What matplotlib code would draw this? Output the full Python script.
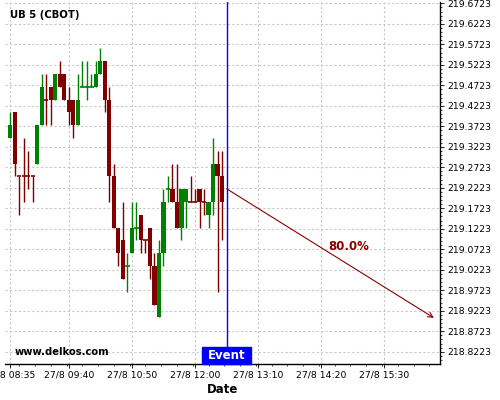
import numpy as np
import pandas as pd
import matplotlib
matplotlib.use("Agg")
import matplotlib.pyplot as plt
from matplotlib.ticker import FuncFormatter, FixedLocator, MultipleLocator
from matplotlib.patches import Rectangle
import matplotlib.transforms as mtransforms

# 5分足 (27/8 08:35 - 12:30), 価格は 1/32 刻み
times = pd.date_range("2025-08-27 08:35", periods=48, freq="5min")
opens = [219.34375, 219.40625, 219.25, 219.25, 219.25, 219.25, 219.28125, 219.375,
         219.4375, 219.46875, 219.4375, 219.5, 219.5, 219.4375, 219.4375, 219.375,
         219.46875, 219.46875, 219.46875, 219.46875, 219.5, 219.53125, 219.4375, 219.25,
         219.125, 219.09375, 219.03125, 219.0625, 219.125, 219.15625, 219.09375, 219.125,
         219.03125, 218.90625, 219.0625, 219.21875, 219.21875, 219.1875, 219.125, 219.1875,
         219.1875, 219.1875, 219.21875, 219.1875, 219.15625, 219.1875, 219.28125, 219.25]
highs = [219.40625, 219.40625, 219.25, 219.34375, 219.3125, 219.25, 219.375, 219.5,
         219.5, 219.46875, 219.5, 219.53125, 219.5, 219.46875, 219.4375, 219.5,
         219.53125, 219.53125, 219.5, 219.53125, 219.5625, 219.53125, 219.46875, 219.28125,
         219.125, 219.1875, 219.0625, 219.1875, 219.1875, 219.15625, 219.09375, 219.125,
         219.0625, 219.09375, 219.21875, 219.25, 219.28125, 219.28125, 219.21875, 219.21875,
         219.25, 219.21875, 219.21875, 219.21875, 219.1875, 219.34375, 219.3125, 219.3125]
lows = [219.34375, 219.25, 219.15625, 219.1875, 219.21875, 219.1875, 219.28125, 219.375,
        219.375, 219.375, 219.4375, 219.46875, 219.4375, 219.375, 219.34375, 219.375,
        219.46875, 219.4375, 219.46875, 219.46875, 219.5, 219.40625, 219.1875, 219.125,
        219.03125, 219.0, 218.96875, 219.0625, 219.09375, 219.0625, 219.0625, 219.0,
        218.9375, 218.90625, 219.03125, 219.1875, 219.1875, 219.125, 219.09375, 219.125,
        219.1875, 219.1875, 219.125, 219.15625, 219.125, 219.15625, 218.96875, 219.09375]
closes = [219.375, 219.28125, 219.25, 219.25, 219.25, 219.25, 219.375, 219.46875,
          219.4375, 219.4375, 219.5, 219.46875, 219.4375, 219.40625, 219.375, 219.4375,
          219.46875, 219.46875, 219.46875, 219.5, 219.53125, 219.4375, 219.25, 219.125,
          219.0625, 219.0, 219.03125, 219.125, 219.125, 219.09375, 219.09375, 219.03125,
          218.9375, 219.0625, 219.1875, 219.21875, 219.1875, 219.125, 219.21875, 219.21875,
          219.1875, 219.1875, 219.1875, 219.1875, 219.1875, 219.28125, 219.25, 219.1875]
# 寄引同値の足の色
doji_up = {16, 17, 18, 26, 28, 35}

event_time = "12:35"
arrow_start = ("12:35", 219.22)
arrow_end = ("16:25", 218.905)
arrow_text = ("14:51", 219.078, "80.0%")

tick_times = ["08:35", "09:40", "10:50", "12:00", "13:10", "14:20", "15:30"]
y_ticks = [218.8223, 218.8723, 218.9223, 218.9723, 219.0223, 219.0723, 219.1223, 219.1723,
           219.2223, 219.2723, 219.3223, 219.3723, 219.4223, 219.4723, 219.5223, 219.5723,
           219.6223, 219.6723]


def to_min(s):
    h, m = s.split(":")
    return int(h) * 60 + int(m)


GREEN = "#008000"
RED = "#800000"

x = times.hour * 60 + times.minute
fig = plt.figure(figsize=(5, 4), dpi=100)
ax = fig.add_axes([0.01, 0.09, 0.87, 0.905])

for i in range(len(x)):
    o, h, l, c = opens[i], highs[i], lows[i], closes[i]
    if c > o or (c == o and i in doji_up):
        col = GREEN
    else:
        col = RED
    ax.vlines(x[i], l, h, color=col, lw=1.0, zorder=3)
    if c == o:
        ax.hlines(o, x[i] - 2.4, x[i] + 2.4, color=col, lw=1.2, zorder=4)
    else:
        ax.bar(x[i], abs(c - o), bottom=min(o, c), width=4.6, color=col,
               edgecolor="none", zorder=4)

ev = to_min(event_time)
ax.axvline(ev, color="#0000ff", lw=1.0, zorder=5)
trans = mtransforms.blended_transform_factory(ax.transData, ax.transAxes)
ax.add_patch(Rectangle((ev - 27.5, 0.0), 55, 0.046, transform=trans,
                       color="#0000ff", zorder=6, clip_on=False))
ax.text(ev, 0.023, "Event", transform=trans, color="white", fontsize=8.5,
        fontweight="bold", ha="center", va="center", zorder=7)

ax.annotate("", xy=(to_min(arrow_end[0]), arrow_end[1]),
            xytext=(to_min(arrow_start[0]), arrow_start[1]),
            arrowprops=dict(arrowstyle="->", color="#8b0000", lw=0.8,
                            mutation_scale=9, shrinkA=0, shrinkB=0), zorder=6)
ax.text(to_min(arrow_text[0]), arrow_text[1], arrow_text[2], color="#8b0000",
        fontsize=8.5, fontweight="bold", ha="center", va="center")

ax.text(0.023, 0.032, "www.delkos.com", transform=ax.transAxes, fontsize=7.2,
        fontweight="bold", ha="left", va="center", zorder=7)
fig.text(0.02, 1 - 15 / 400, "UB 5 (CBOT)", fontsize=7.3, fontweight="bold",
         ha="left", va="center")

ax.set_xlim(509.2, 991.8)
ax.set_ylim(218.7925, 219.6755)

ax.xaxis.set_major_locator(FixedLocator([to_min(t) for t in tick_times]))
ax.xaxis.set_minor_locator(MultipleLocator(17.5))
ax.xaxis.set_major_formatter(FuncFormatter(
    lambda v, p: "27/8 %02d:%02d" % (int(round(v)) // 60, int(round(v)) % 60)))
ax.yaxis.tick_right()
ax.yaxis.set_major_locator(FixedLocator(y_ticks))
ax.yaxis.set_minor_locator(FixedLocator(np.arange(218.7923, 219.68, 0.01)))
ax.yaxis.set_major_formatter(FuncFormatter(lambda v, p: "%.4f" % v))

ax.tick_params(axis="both", which="major", labelsize=6.7, length=3, width=0.6,
               pad=2, direction="out")
ax.tick_params(axis="both", which="minor", length=1.5, width=0.5, direction="out")
ax.tick_params(axis="y", which="both", right=True, left=False)

for side in ["left", "top"]:
    ax.spines[side].set_visible(False)
for side in ["right", "bottom"]:
    ax.spines[side].set_linewidth(1.0)
    ax.spines[side].set_color("black")

ax.grid(True, which="major", color="#c8c8c8", linestyle=(0, (2, 2)), lw=0.8)
ax.set_axisbelow(True)
ax.set_xlabel("Date", fontsize=8.5, fontweight="bold", labelpad=2)

fig.savefig("out.png", dpi=100)
